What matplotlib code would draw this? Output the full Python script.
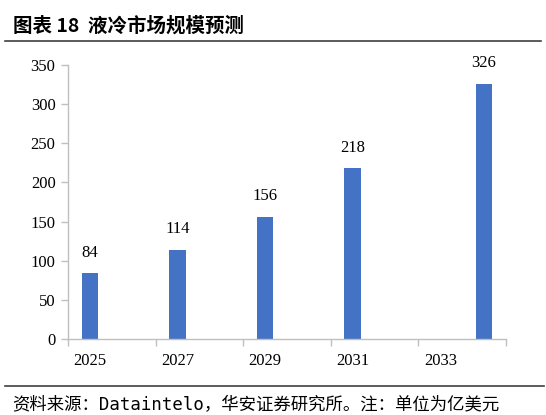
import matplotlib.pyplot as plt

# 液冷市场规模预测（亿美元）
years = [2025, 2026, 2027, 2028, 2029, 2030, 2031, 2032, 2033, 2034]
values = [84, None, 114, None, 156, None, 218, None, None, 326]
tick_years = ['2025', '2027', '2029', '2031', '2033']

bar_color = '#4472C4'
axis_color = '#BFBFBF'
serif = 'Liberation Serif'
cjk = ['Noto Sans CJK SC', 'DejaVu Sans']

fig = plt.figure(figsize=(5.46, 4.15), dpi=100)
ax = fig.add_axes([68 / 546, 1 - 339 / 415, (506 - 68) / 546, (339 - 65) / 415])

xs = [i for i, v in enumerate(values) if v is not None]
hs = [v for v in values if v is not None]
ax.bar(xs, hs, width=0.38, color=bar_color, zorder=2)
for x, h in zip(xs, hs):
    ax.annotate(str(h), (x, h), xytext=(0, 9), textcoords='offset points',
                ha='center', va='bottom', fontsize=12, family=serif)

ax.set_xlim(-0.5, len(years) - 0.5)
ax.set_ylim(0, 350)
ax.set_yticks(range(0, 351, 50))
ax.set_xticks(range(0, len(years), 2))
ax.set_xticklabels(tick_years)
ax.set_xticks([i - 0.5 for i in range(0, len(years) + 1, 2)], minor=True)

for lab in ax.get_xticklabels() + ax.get_yticklabels():
    lab.set_family(serif)
    lab.set_fontsize(12)

ax.tick_params(axis='x', which='major', length=0, pad=10)
ax.tick_params(axis='x', which='minor', length=5, color=axis_color, width=1)
ax.tick_params(axis='y', length=5, color=axis_color, width=1, pad=4)

for s in ['top', 'right']:
    ax.spines[s].set_visible(False)
for s in ['left', 'bottom']:
    ax.spines[s].set_color(axis_color)
    ax.spines[s].set_linewidth(1)

# title and source
fig.text(13 / 546, 1 - 26 / 415, '图表 18  液冷市场规模预测', family=cjk,
         fontsize=14, fontweight='bold', va='center', ha='left')
fig.add_artist(plt.Line2D([5 / 546, 541 / 546], [1 - 41 / 415, 1 - 41 / 415],
                          color='#404040', lw=1.2))
fig.add_artist(plt.Line2D([5 / 546, 544 / 546], [1 - 386 / 415, 1 - 386 / 415],
                          color='#404040', lw=1.2))
fig.text(12 / 546, 1 - 405 / 415, '资料来源：Dataintelo，华安证券研究所。注：单位为亿美元',
         family=['DejaVu Sans Mono', 'Noto Sans CJK SC'], fontsize=12.5,
         va='center', ha='left')

fig.savefig('out.png', dpi=100)
